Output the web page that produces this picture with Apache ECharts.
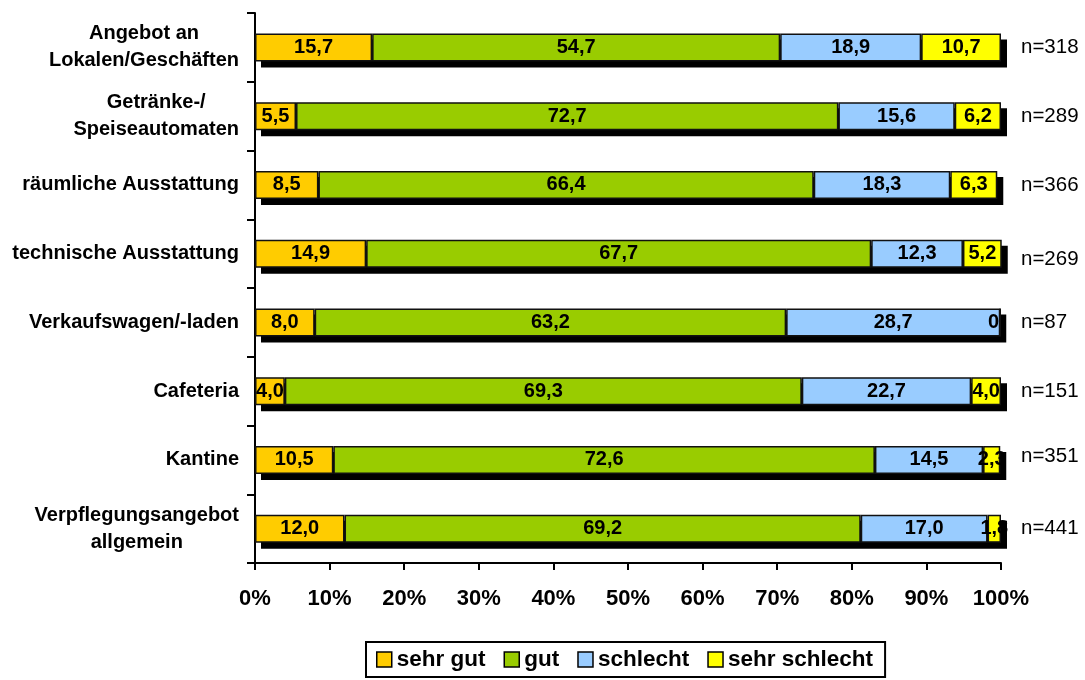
<!DOCTYPE html>
<html>
<head>
<meta charset="utf-8">
<title>Bewertung Verpflegung</title>
<script src="https://cdn.jsdelivr.net/npm/echarts@6/dist/echarts.min.js"></script>
<style>
  html, body { margin: 0; padding: 0; background: #fff; }
  #chart { width: 1085px; height: 680px; }
</style>
</head>
<body>
<div id="chart"></div>
<script>
// Categories, top to bottom
const categories = [
  'Angebot an\nLokalen/Geschäften',
  'Getränke-/\nSpeiseautomaten',
  'räumliche Ausstattung',
  'technische Ausstattung',
  'Verkaufswagen/-laden',
  'Cafeteria',
  'Kantine',
  'Verpflegungsangebot\nallgemein'
];

// Sample sizes shown on the right
const sampleSizes = ['n=318', 'n=289', 'n=366', 'n=269', 'n=87', 'n=151', 'n=351', 'n=441'];

// Shares in percent, same order as categories
const sehrGut      = [15.7,  5.5,  8.5, 14.9,  8.0,  4.0, 10.5, 12.0];
const gut          = [54.7, 72.7, 66.4, 67.7, 63.2, 69.3, 72.6, 69.2];
const schlecht     = [18.9, 15.6, 18.3, 12.3, 28.7, 22.7, 14.5, 17.0];
const sehrSchlecht = [10.7,  6.2,  6.3,  5.2,  0.0,  4.0,  2.3,  1.8];

const xTicks = { min: 0, max: 100, interval: 10 };

const FONT = '"Liberation Sans", Arial, sans-serif';
const BAR_W = 28;
const SHADOW = 6;

// Row totals, used for the drop shadow behind each stacked bar
const totals = categories.map((c, i) => sehrGut[i] + gut[i] + schlecht[i] + sehrSchlecht[i]);

function fmtValue(p) {
  return p.value === 0 ? '0' : p.value.toFixed(1).replace('.', ',');
}

function makeSeries(name, values, color) {
  return {
    name: name,
    type: 'bar',
    stack: 'total',
    barWidth: BAR_W,
    z: 3,
    data: values.map(v => v === 0
      ? { value: v, label: { position: 'insideRight', distance: 2 } }
      : v),
    itemStyle: {
      color: color,
      borderColor: '#111',
      borderWidth: 1.5
    },
    label: {
      show: true,
      position: 'inside',
      formatter: fmtValue,
      color: '#000',
      fontFamily: FONT,
      fontWeight: 'bold',
      fontSize: 20
    },
    emphasis: { disabled: true }
  };
}

// Solid black shadow offset down/right of each full bar
const shadowSeries = {
  type: 'custom',
  name: 'shadow',
  z: 2,
  silent: true,
  data: totals.map((t, i) => [t, i]),
  encode: { x: 0, y: 1 },
  renderItem: function (params, api) {
    const start = api.coord([0, api.value(1)]);
    const end = api.coord([api.value(0), api.value(1)]);
    return {
      type: 'rect',
      shape: {
        x: start[0] + SHADOW,
        y: start[1] - BAR_W / 2 + SHADOW,
        width: end[0] - start[0],
        height: BAR_W
      },
      style: { fill: '#000' }
    };
  }
};

const chart = echarts.init(document.getElementById('chart'), null, { renderer: 'canvas' });

chart.setOption({
  animation: false,
  backgroundColor: '#fff',
  grid: { left: 255, right: 84, top: 13, bottom: 117, containLabel: false },
  xAxis: {
    type: 'value',
    min: xTicks.min,
    max: xTicks.max,
    interval: xTicks.interval,
    axisLine: { show: true, lineStyle: { color: '#000', width: 2 } },
    axisTick: { show: true, length: 7, lineStyle: { color: '#000', width: 2 } },
    splitLine: { show: false },
    axisLabel: {
      formatter: '{value}%',
      color: '#000',
      fontFamily: FONT,
      fontWeight: 'bold',
      fontSize: 22,
      margin: 25
    }
  },
  yAxis: [
    {
      type: 'category',
      data: categories,
      inverse: true,
      axisLine: { show: true, lineStyle: { color: '#000', width: 2 } },
      axisTick: { show: true, length: 8, lineStyle: { color: '#000', width: 2 } },
      axisLabel: {
        color: '#000',
        fontFamily: FONT,
        fontWeight: 'bold',
        fontSize: 20,
        margin: 16,
        align: 'right',
        lineHeight: 27,
        formatter: function (v) {
          return v.split('\n').map(l => '{c|' + l + '}').join('\n');
        },
        rich: {
          c: {
            align: 'center',
            color: '#000',
            fontFamily: FONT,
            fontWeight: 'bold',
            fontSize: 20,
            lineHeight: 27
          }
        }
      }
    },
    {
      type: 'category',
      data: sampleSizes,
      inverse: true,
      position: 'right',
      axisLine: { show: false },
      axisTick: { show: false },
      axisLabel: {
        margin: 20,
        align: 'left',
        formatter: function (v) {
          if (v === 'n=269') return '{dn|' + v + '}';
          if (v === 'n=351') return '{up|' + v + '}';
          return '{n|' + v + '}';
        },
        rich: {
          n:  { color: '#000', fontFamily: FONT, fontSize: 20.5 },
          dn: { color: '#000', fontFamily: FONT, fontSize: 20.5, padding: [12, 0, 0, 0] },
          up: { color: '#000', fontFamily: FONT, fontSize: 20.5, padding: [0, 0, 8, 0] }
        }
      }
    }
  ],
  legend: {
    left: 366,
    top: 642,
    orient: 'horizontal',
    icon: 'rect',
    itemWidth: 15,
    itemHeight: 15,
    itemGap: 18,
    padding: [6, 12, 6, 10],
    borderColor: '#000',
    borderWidth: 2,
    backgroundColor: '#fff',
    itemStyle: {
      borderColor: '#000',
      borderWidth: 1.5
    },
    textStyle: {
      color: '#000',
      fontFamily: FONT,
      fontWeight: 'bold',
      fontSize: 22.5
    },
    selectedMode: false,
    data: ['sehr gut', 'gut', 'schlecht', 'sehr schlecht']
  },
  series: [
    shadowSeries,
    makeSeries('sehr gut', sehrGut, '#FFCC00'),
    makeSeries('gut', gut, '#99CC00'),
    makeSeries('schlecht', schlecht, '#99CCFF'),
    makeSeries('sehr schlecht', sehrSchlecht, '#FFFF00')
  ]
});
</script>
</body>
</html>
